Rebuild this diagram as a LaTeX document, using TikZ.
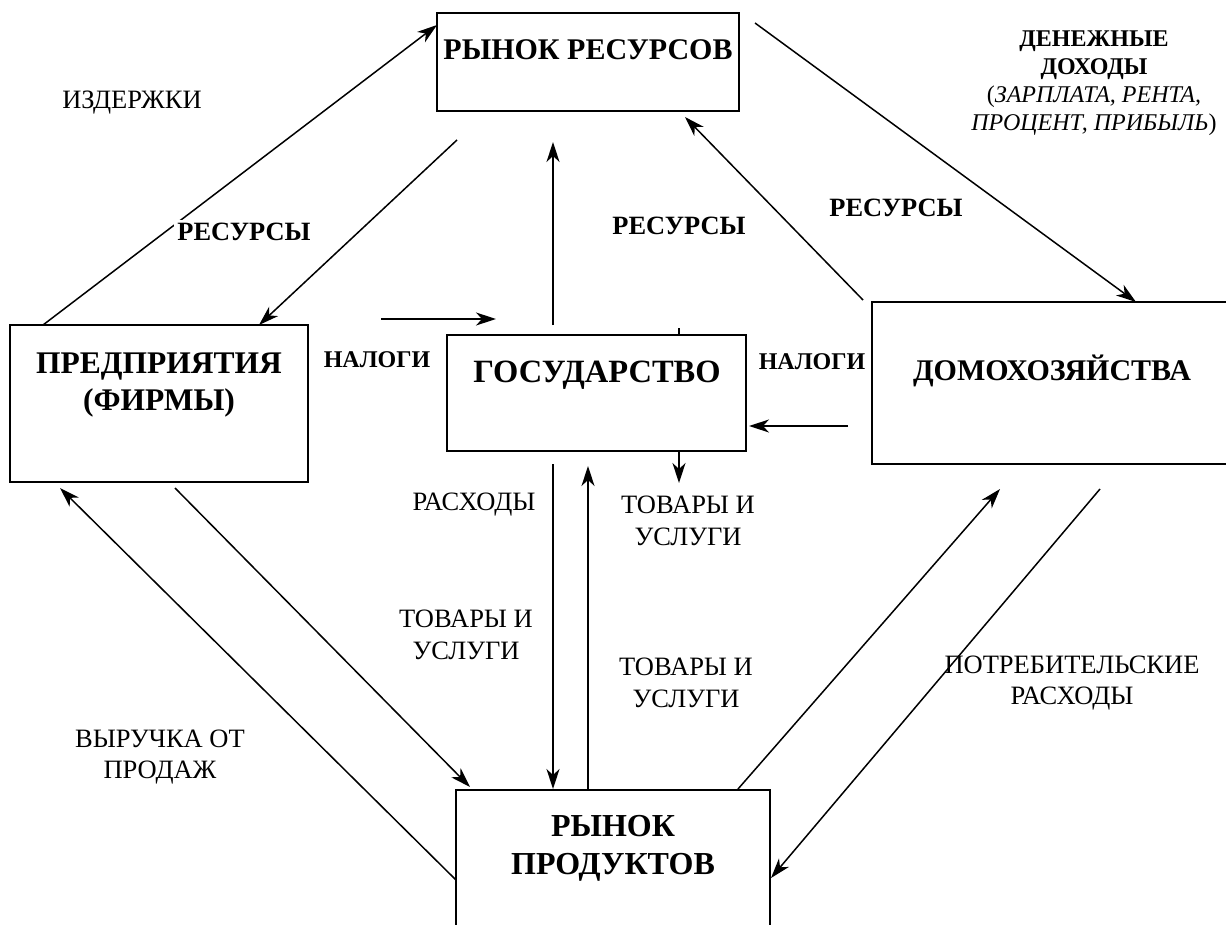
\documentclass[tikz,border=0pt]{standalone}
\usepackage{fontspec}
\setmainfont{Liberation Serif}
\usetikzlibrary{arrows.meta}
\begin{document}
\begin{tikzpicture}[x=1pt,y=-1pt,
  box/.style={draw,line width=2pt,inner sep=0pt},
  flow/.style={line width=1.5pt,-{Stealth[length=20pt,width=13pt,inset=6pt]}},
  plain/.style={line width=1.5pt},
  bt/.style={font=\fontsize{30}{37}\selectfont\bfseries,align=center,inner sep=0pt},
  lb/.style={font=\fontsize{26.5}{31.5}\selectfont,align=center,inner sep=0pt},
  lbb/.style={font=\fontsize{26.4}{31}\selectfont\bfseries,align=center,inner sep=0pt},
]
\useasboundingbox (0,0) rectangle (1226,925);
\fill[white] (0,0) rectangle (1226,925);
% boxes
\node[box,minimum width=302pt,minimum height=98pt] (rr) at (588,62) {};
\node[bt] (rrt) at (588,50) {РЫНОК РЕСУРСОВ};
\node[box,minimum width=298pt,minimum height=157pt] (firms) at (159,403.5) {};
\node[bt,font=\fontsize{31.5}{37}\selectfont\bfseries] (firmst) at (159,385) {ПРЕДПРИЯТИЯ\\(ФИРМЫ)};
\node[box,minimum width=299pt,minimum height=116pt] (gov) at (596.5,393) {};
\node[bt,font=\fontsize{32.5}{37}\selectfont\bfseries] (govt) at (597,375) {ГОСУДАРСТВО};
\node[box,minimum width=360pt,minimum height=162pt] (hh) at (1052,383) {};
\node[bt] (hht) at (1052,371) {ДОМОХОЗЯЙСТВА};
\node[box,minimum width=314pt,minimum height=180pt] (pm) at (613,880) {};
\node[bt,font=\fontsize{32}{38}\selectfont\bfseries] (pmt) at (613,848) {РЫНОК\\ПРОДУКТОВ};
% connector ends
\coordinate (f1) at (43,325);
\coordinate (r1) at (437,25);
\coordinate (r2) at (457,140);
\coordinate (f2) at (259,325);
\coordinate (g1) at (553,325);
\coordinate (r3) at (553,142);
\coordinate (r4) at (755,23);
\coordinate (h1) at (1136,302);
\coordinate (h2) at (863,300);
\coordinate (r5) at (685,117);
\coordinate (t1) at (381,319);
\coordinate (t2) at (496,319);
\coordinate (t3) at (848,426);
\coordinate (t4) at (749,426);
\coordinate (g2) at (679,451);
\coordinate (g3) at (679,483);
\coordinate (g6) at (679,328);
\coordinate (g7) at (679,335);
\coordinate (g4) at (553,464);
\coordinate (p1) at (553,789);
\coordinate (p2) at (588,790);
\coordinate (g5) at (588,466);
\coordinate (f3) at (175,488);
\coordinate (p3) at (470,787);
\coordinate (p4) at (456,880);
\coordinate (f4) at (60,488);
\coordinate (p5) at (738,789);
\coordinate (h3) at (1000,489);
\coordinate (h4) at (1100,489);
\coordinate (p6) at (771,878);
% connectors
\draw[flow] (f1) -- (r1);
\draw[flow] (r2) -- (f2);
\draw[flow] (g1) -- (r3);
\draw[flow] (r4) -- (h1);
\draw[flow] (h2) -- (r5);
\draw[flow] (t1) -- (t2);
\draw[flow] (t3) -- (t4);
\draw[flow] (g2) -- (g3);
\draw[plain] (g6) -- (g7);
\draw[flow] (g4) -- (p1);
\draw[flow] (p2) -- (g5);
\draw[flow] (f3) -- (p3);
\draw[flow] (p4) -- (f4);
\draw[flow] (p5) -- (h3);
\draw[flow] (h4) -- (p6);
% labels
\node[lb] (l1) at (132,103) {ИЗДЕРЖКИ};
\node[lbb,fill=white,inner sep=3pt] (l2) at (244,232) {РЕСУРСЫ};
\node[lbb] (l3) at (679,226) {РЕСУРСЫ};
\node[lbb] (l4) at (896,208) {РЕСУРСЫ};
\node[font=\fontsize{24}{28}\selectfont,align=center,inner sep=0pt] (l5) at (1094,83)
  {\textbf{ДЕНЕЖНЫЕ}\\\textbf{ДОХОДЫ}\\(\textit{ЗАРПЛАТА, РЕНТА,}\\\textit{ПРОЦЕНТ, ПРИБЫЛЬ})};
\node[lbb,font=\fontsize{24}{31}\selectfont\bfseries] (l6) at (377,360) {НАЛОГИ};
\node[lbb,font=\fontsize{24}{31}\selectfont\bfseries] (l7) at (812,362) {НАЛОГИ};
\node[lb] (l8) at (474,505) {РАСХОДЫ};
\node[lb] (l9) at (688,521) {ТОВАРЫ И\\УСЛУГИ};
\node[lb] (l10) at (466,635) {ТОВАРЫ И\\УСЛУГИ};
\node[lb] (l11) at (686,683) {ТОВАРЫ И\\УСЛУГИ};
\node[lb] (l12) at (160,757) {ВЫРУЧКА ОТ\\ПРОДАЖ};
\node[lb] (l13) at (1072,683) {ПОТРЕБИТЕЛЬСКИЕ\\РАСХОДЫ};
\end{tikzpicture}
\end{document}
